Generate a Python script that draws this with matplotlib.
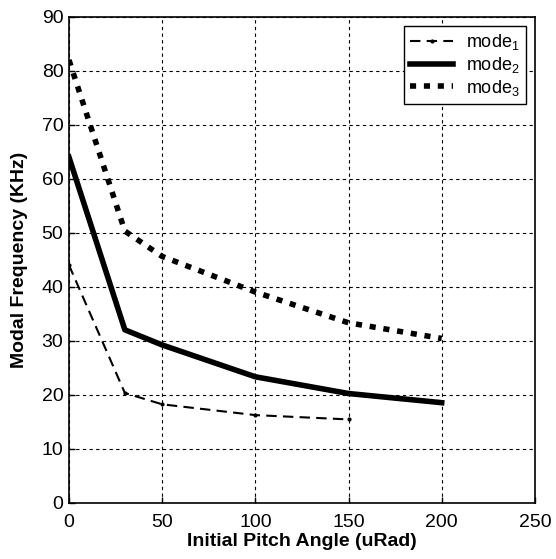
import numpy as np
import matplotlib
matplotlib.use("Agg")
from matplotlib import pyplot as plt

plt.rcParams['font.family'] = ['Liberation Sans', 'DejaVu Sans']
plt.rcParams['mathtext.fontset'] = 'custom'
plt.rcParams['mathtext.rm'] = 'Liberation Sans'
plt.rcParams['mathtext.it'] = 'Liberation Sans'

# Data
#--------------------------------------------------------------------------
angle_1 = [0, 30, 50, 100, 150]
mode_1 = [44, 20.3, 18.2, 16.2, 15.4]

angle_23 = [0, 30, 50, 100, 150, 200]
mode_2 = [64, 32, 29.2, 23.3, 20.2, 18.5]
mode_3 = [82, 50.3, 45.6, 39, 33.3, 30.4]

labels = ['mode$_1$', 'mode$_2$', 'mode$_3$']
#--------------------------------------------------------------------------

fig = plt.figure(figsize=(5.56, 5.59), dpi=100)
ax = fig.add_axes([0.124, 0.101, 0.838, 0.869])

ax.plot(angle_1, mode_1, color='black', lw=1.5, ls=(0, (5, 3)),
        marker='.', ms=4, label=labels[0])
ax.plot(angle_23, mode_2, color='black', lw=4, ls='-', label=labels[1])
ax.plot(angle_23, mode_3, color='black', lw=4, ls=(0, (1.1, 1.4)),
        label=labels[2])

ax.set_xlim(0, 250)
ax.set_ylim(0, 90)
ax.set_xticks(np.arange(0, 251, 50))
ax.set_yticks(np.arange(0, 91, 10))
ax.grid(True, color='black', ls=(0, (3, 3)), lw=0.8)
ax.tick_params(direction='in', labelsize=14, length=4, width=1)
ax.tick_params(axis='x', pad=8)
ax.tick_params(axis='y', pad=4)
for s in ax.spines.values():
    s.set_linewidth(1.2)

ax.set_xlabel('Initial Pitch Angle (uRad)', fontsize=14, fontweight='bold',
              labelpad=2)
ax.set_ylabel('Modal Frequency (KHz)', fontsize=14, fontweight='bold',
              labelpad=10)

leg = ax.legend(loc='upper right', fontsize=13, handlelength=2.4,
                handletextpad=0.7, fancybox=False, framealpha=1,
                edgecolor='black', borderaxespad=0.5, labelspacing=0.15,
                borderpad=0.35)
leg.get_frame().set_linewidth(1.0)

plt.savefig('out.png', dpi=100)
